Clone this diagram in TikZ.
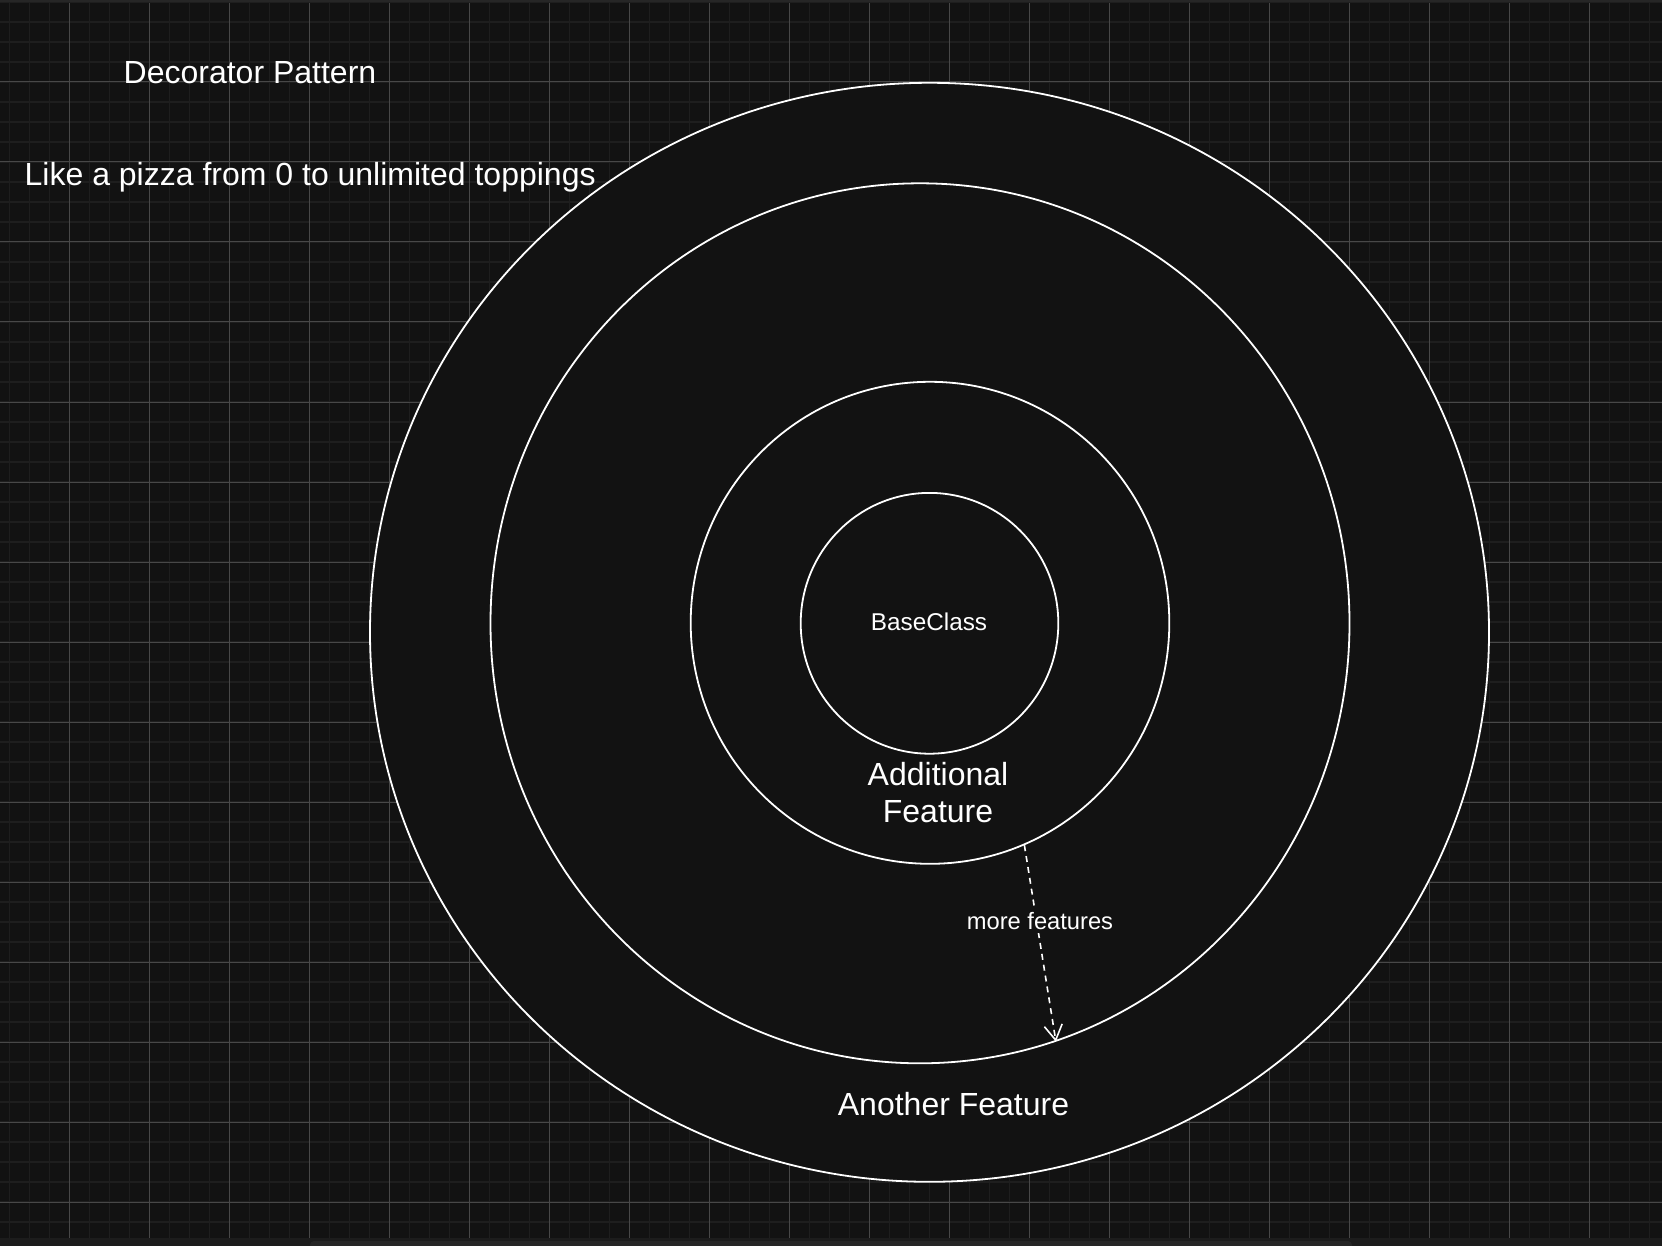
\documentclass[tikz,border=0pt]{standalone}
\usepackage{fontspec}
\setmainfont{Liberation Sans}
\usetikzlibrary{shapes.geometric,arrows.meta}
\definecolor{bgdark}{HTML}{121212}
\definecolor{gridminor}{HTML}{1E1E1E}
\definecolor{gridmajor}{HTML}{484848}
\definecolor{barfill}{HTML}{1C1C1C}
\definecolor{barbox}{HTML}{262626}
\begin{document}
\begin{tikzpicture}[x=1pt,y=-1pt,
    ring/.style={ellipse,draw=white,line width=1.8pt,fill=bgdark,inner sep=0pt},
    lbl/.style={text=white,inner sep=0pt,font=\fontsize{32}{37}\selectfont},
    small/.style={text=white,font=\fontsize{23.7}{28}\selectfont}]
\useasboundingbox (0,0) rectangle (1662,1246);
\fill[bgdark] (0,0) rectangle (1662,1246);
% grid
\foreach \x in {9.5,29.5,...,1662} \draw[gridminor,line width=1.6pt] (\x,3) -- (\x,1238);
\foreach \y in {2,22,...,1238} \draw[gridminor,line width=1.6pt] (0,\y) -- (1662,\y);
\foreach \x in {69.5,149.5,...,1662} \draw[gridmajor,line width=1pt] (\x,3) -- (\x,1238);
\foreach \y in {2,82,...,1238} \draw[gridmajor,line width=1pt] (0,\y) -- (1662,\y);
\fill[barbox] (0,0) rectangle (1662,2.5);
\fill[barfill] (0,1238) rectangle (1662,1246);
\fill[barbox,rounded corners=4pt] (310,1241) rectangle (1352,1252);

% rings
\node[ring,minimum width=1119,minimum height=1099] (outer) at (929.5,632.3) {};
\node[ring,minimum width=859,minimum height=880] (another) at (920,623.3) {};
\node[ring,minimum width=478.6,minimum height=482] (additional) at (930,622.8) {};
\node[ring,minimum width=257.6,minimum height=260.8] (base) at (929.5,623.3) {};

% texts
\node[lbl,anchor=base west] (title) at (123.5,83.3) {Decorator Pattern};
\node[lbl,anchor=base west] (pizza) at (24.5,186) {Like a pizza from 0 to unlimited toppings};
\node[lbl,font=\fontsize{24.3}{28}\selectfont,anchor=base] (baselbl) at (929,630.7) {BaseClass};
\node[lbl,align=center] (addlbl) at (938,792.5) {Additional\\Feature};
\node[lbl,anchor=base] (anotherlbl) at (953.5,1115) {Another Feature};

% more features
\draw[white,line width=1.6pt,dash pattern=on 6pt off 5pt,
      -{Straight Barb[length=15pt,width=18pt,line width=1.6pt]}]
      (additional.-67.5) -- (another.-72.2);
\node[small,fill=bgdark,inner xsep=0pt,inner ysep=3pt,anchor=base] (more) at (1040,929.5) {more features};
\end{tikzpicture}
\end{document}
